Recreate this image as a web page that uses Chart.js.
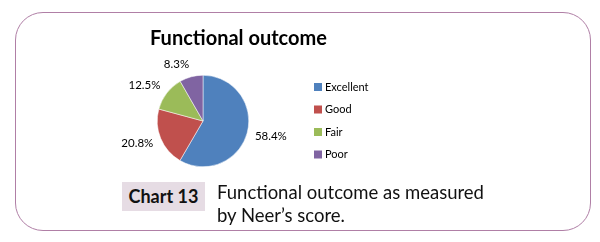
<!DOCTYPE html>
<html>
<head>
<meta charset="utf-8">
<script src="https://cdn.jsdelivr.net/npm/chart.js@4/dist/chart.umd.min.js"></script>
<style>
  html, body { margin: 0; padding: 0; background: #fff; }
  body { width: 600px; height: 242px; position: relative; overflow: hidden; font-family: Lato, "Open Sans", sans-serif; }
  .frame { position: absolute; left: 15px; top: 12px; width: 574px; height: 217px; border: 1.5px solid #b07fa6; border-radius: 28px; }
  #chart { position: absolute; left: 0; top: 0; }
  .title { position: absolute; left: 150px; top: 25px; font-weight: 700; font-size: 20px; color: #000; white-space: nowrap; }
  .tag { position: absolute; left: 122px; top: 182px; width: 83px; height: 29px; background: #e6dce4; font-weight: 700; font-size: 18px; line-height: 29px; text-align: center; color: #111; }
  .caption { position: absolute; left: 217px; top: 181px; font-size: 18.5px; line-height: 23px; color: #111; white-space: nowrap; }
</style>
</head>
<body>
<div class="frame"></div>
<canvas id="chart" width="600" height="242"></canvas>
<div class="title">Functional outcome</div>
<div class="tag">Chart 13</div>
<div class="caption">Functional outcome as measured<br>by Neer’s score.</div>
<script>
const categories = ['Excellent', 'Good', 'Fair', 'Poor'];
const percents = [58.4, 20.8, 12.5, 8.3];
const colors = ['#4f81bd', '#c0504d', '#9bbb59', '#8064a2'];

// percent labels outside each slice
const outsideLabels = {
    id: 'outsideLabels',
    afterDatasetsDraw(chart) {
        const ctx = chart.ctx;
        const arcs = chart.getDatasetMeta(0).data;
        ctx.save();
        ctx.font = '11.5px Lato, sans-serif';
        ctx.fillStyle = '#000';
        ctx.textBaseline = 'middle';
        arcs.forEach((arc, i) => {
            const mid = (arc.startAngle + arc.endAngle) / 2;
            const dx = Math.cos(mid), dy = Math.sin(mid);
            const x = arc.x + dx * (arc.outerRadius + 8);
            const y = arc.y + dy * (arc.outerRadius + 13);
            ctx.textAlign = dx >= 0 ? 'left' : 'right';
            ctx.fillText(percents[i].toFixed(1) + '%', x, y);
        });
        ctx.restore();
    }
};

// legend on the right, square + label
const sideLegend = {
    id: 'sideLegend',
    afterDraw(chart) {
        const ctx = chart.ctx;
        ctx.save();
        ctx.font = '11px Lato, sans-serif';
        ctx.textBaseline = 'middle';
        ctx.textAlign = 'left';
        categories.forEach((name, i) => {
            const y = 87 + i * 22.5;
            ctx.fillStyle = colors[i];
            ctx.fillRect(314, y - 4, 8, 8);
            ctx.fillStyle = '#000';
            ctx.fillText(name, 325, y);
        });
        ctx.restore();
    }
};

new Chart(document.getElementById('chart'), {
    type: 'pie',
    data: {
        labels: categories,
        datasets: [{
            data: percents,
            backgroundColor: colors,
            borderColor: '#ffffff',
            borderWidth: 0.5
        }]
    },
    options: {
        responsive: false,
        animation: false,
        layout: { padding: { left: 157, right: 351, top: 75, bottom: 75 } },
        plugins: {
            legend: { display: false },
            tooltip: { enabled: false }
        }
    },
    plugins: [outsideLabels, sideLegend]
});
</script>
</body>
</html>
